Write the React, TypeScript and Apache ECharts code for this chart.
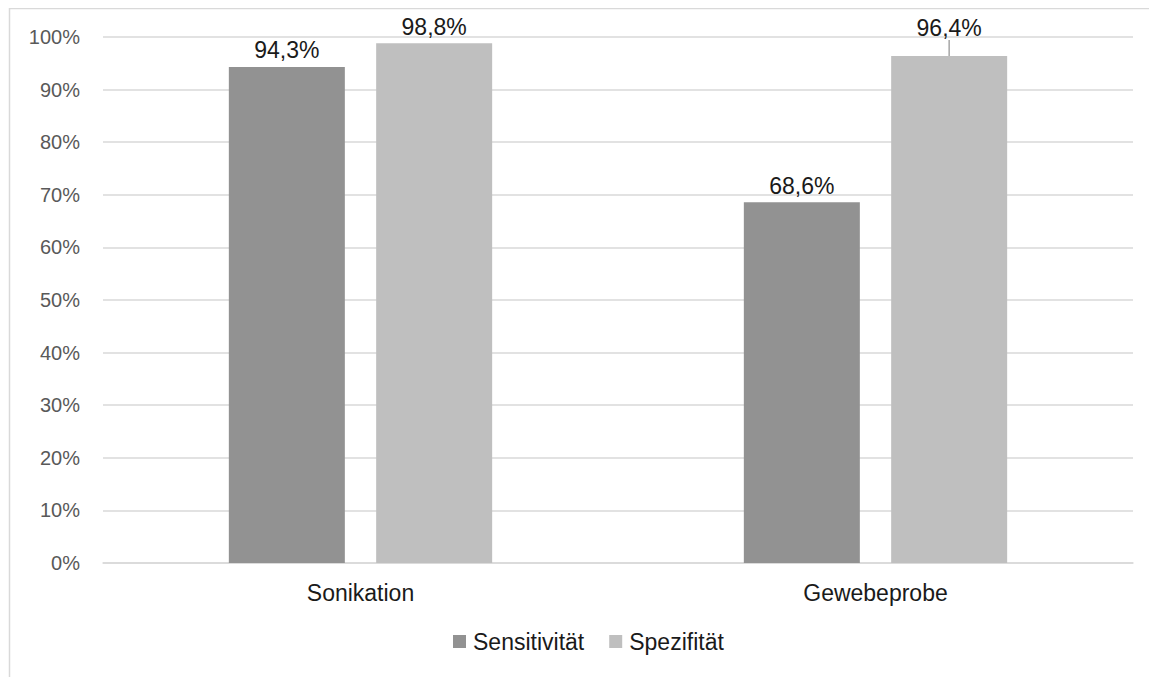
import React, { useEffect, useRef } from "react";
import * as echarts from "echarts";

const categories = ["Sonikation", "Gewebeprobe"];
const sensitivity = [94.3, 68.6];
const specificity = [98.8, 96.4];
const seriesNames = ["Sensitivität", "Spezifität"];
const yTicks = [0, 10, 20, 30, 40, 50, 60, 70, 80, 90, 100];
// index of the Spezifität label lifted above the gridline, with a leader line
const liftedLabelIndex = 1;

const FONT = "'Liberation Sans', Arial, sans-serif";

const fmt = (v: number) => v.toFixed(1).replace(".", ",") + "%";

export default function App() {
  const ref = useRef<HTMLDivElement>(null);

  useEffect(() => {
    if (!ref.current) return;
    const chart = echarts.init(ref.current, undefined, { renderer: "svg" });
    const labelStyle = {
      show: true,
      position: "top",
      distance: 5,
      fontFamily: FONT,
      fontSize: 23,
      color: "#1a1a1a",
      formatter: (p: any) => fmt(p.value),
    };
    chart.setOption({
      animation: false,
      backgroundColor: "#ffffff",
      textStyle: { fontFamily: FONT },
      graphic: [
        {
          type: "rect",
          shape: { x: 1.5, y: 0.5, width: 3000, height: 3000 },
          style: { fill: "none", stroke: "#d9d9d9", lineWidth: 1.5 },
          silent: true,
          z: -10,
        },
      ],
      grid: { left: 95, top: 29, width: 1030, height: 526, containLabel: false },
      legend: {
        data: seriesNames,
        bottom: 24,
        left: 445,
        padding: 0,
        itemWidth: 13,
        itemHeight: 13,
        itemGap: 25,
        icon: "rect",
        textStyle: { fontFamily: FONT, fontSize: 23, color: "#1a1a1a", padding: [0, 0, 0, 2] },
      },
      xAxis: {
        type: "category",
        data: categories,
        axisLine: { show: true, lineStyle: { color: "#d9d9d9", width: 1.5 } },
        axisTick: { show: false },
        axisLabel: { fontFamily: FONT, fontSize: 23, color: "#1a1a1a", margin: 18 },
      },
      yAxis: {
        type: "value",
        min: yTicks[0],
        max: yTicks[yTicks.length - 1],
        interval: 10,
        axisLine: { show: false },
        axisTick: { show: false },
        splitLine: { lineStyle: { color: "#d9d9d9", width: 1.5 } },
        axisLabel: {
          fontFamily: FONT,
          fontSize: 20,
          color: "#595959",
          margin: 23,
          formatter: (v: number) => v + "%",
        },
      },
      series: [
        {
          name: seriesNames[0],
          type: "bar",
          data: sensitivity,
          barWidth: 116,
          barGap: "27%",
          itemStyle: { color: "#929292" },
          label: labelStyle,
        },
        {
          name: seriesNames[1],
          type: "bar",
          data: specificity.map((v, i) =>
            i === liftedLabelIndex ? { value: v, labelLine: { show: true } } : { value: v }
          ),
          barWidth: 116,
          itemStyle: { color: "#bfbfbf" },
          label: labelStyle,
          labelLine: { show: false, lineStyle: { color: "#a6a6a6", width: 1.5 } },
          labelLayout: (p: any) => (p.dataIndex === liftedLabelIndex ? { dy: -11 } : {}),
        },
      ],
    });
    return () => chart.dispose();
  }, []);

  return <div ref={ref} style={{ width: 1149, height: 669 }} />;
}
